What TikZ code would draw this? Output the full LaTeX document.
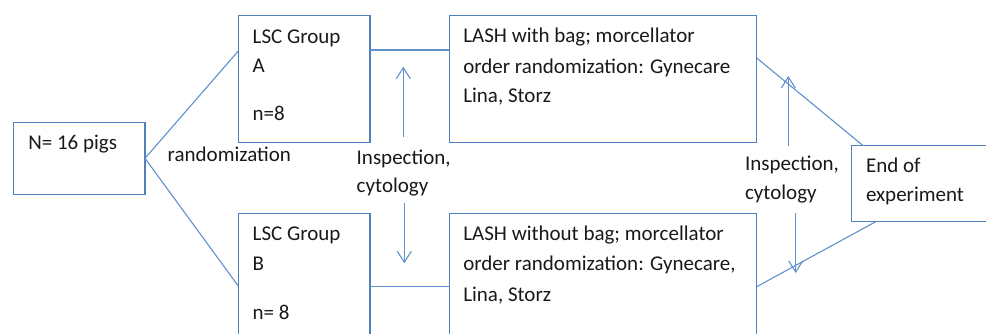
\documentclass[tikz,border=0pt]{standalone}
\usepackage{fontspec}
\setmainfont{Carlito}
\usetikzlibrary{arrows.meta}
\definecolor{boxblue}{RGB}{79,129,189}
\definecolor{lineblue}{RGB}{95,145,205}
\definecolor{txt}{RGB}{25,25,25}
\begin{document}
\begin{tikzpicture}[x=1pt,y=-1pt,
  box/.style={draw=boxblue,line width=1.2pt,rectangle,inner sep=0pt,outer sep=0pt,anchor=north west},
  conn/.style={draw=lineblue,line width=1.1pt},
  arr/.style={draw=lineblue,line width=1.1pt,-{Straight Barb[length=11pt,width=14pt,line width=1.1pt]}},
  lbl/.style={anchor=base west,inner sep=0pt,outer sep=0pt,text=txt,font=\fontsize{21}{30}\selectfont}]
\useasboundingbox (0,0) rectangle (986,333);
\clip (0,0) rectangle (986,333);
% boxes
\node[box,minimum width=131.7pt,minimum height=72pt] (N) at (13.3,122.3) {};
\node[box,minimum width=131.7pt,minimum height=127pt] (lscA) at (238.3,15.3) {};
\node[box,minimum width=131.7pt,minimum height=127pt] (lscB) at (238.3,213.3) {};
\node[box,minimum width=307.4pt,minimum height=127pt] (lashA) at (449.3,15.3) {};
\node[box,minimum width=307.4pt,minimum height=127pt] (lashB) at (449.3,213.3) {};
\node[box,minimum width=150pt,minimum height=76.4pt] (endb) at (851.7,145.3) {};
% texts
\node[lbl] (tN) at (28.3,149.7) {N= 16 pigs};
\node[lbl] (tA1) at (252.7,43.3) {LSC Group};
\node[lbl] (tA2) at (252.7,72.5) {A};
\node[lbl] (tA3) at (252.7,120.7) {n=8};
\node[lbl] (tB1) at (252.7,240.7) {LSC Group};
\node[lbl] (tB2) at (252.7,270.7) {B};
\node[lbl] (tB3) at (252.7,319) {n= 8};
\node[lbl] (tLA1) at (463.3,42.7) {LASH with bag; morcellator};
\node[lbl] (tLA2) at (463.3,73.3) {order randomization: Gynecare};
\node[lbl] (tLA3) at (463.3,102.7) {Lina, Storz};
\node[lbl] (tLB1) at (463.3,240.7) {LASH without bag; morcellator};
\node[lbl] (tLB2) at (463.3,270.7) {order randomization: Gynecare,};
\node[lbl] (tLB3) at (463.3,301.5) {Lina, Storz};
\node[lbl] (tE1) at (866,172) {End of};
\node[lbl] (tE2) at (866,201) {experiment};
\node[lbl] (trand) at (167.7,161) {randomization};
\node[lbl] (tI1) at (356.7,164) {Inspection,};
\node[lbl] (tI2) at (356.7,192.5) {cytology};
\node[lbl] (tJ1) at (745,170) {Inspection,};
\node[lbl] (tJ2) at (745,199.3) {cytology};
% connectors
\draw[conn] (N.east) -- ([yshift=-35.7pt]lscA.north west);
\draw[conn] (N.east) -- ([yshift=-72.7pt]lscB.north west);
\draw[conn] ([yshift=-34.7pt]lscA.north east) -- ([yshift=-34.7pt]lashA.north west);
\draw[conn] ([yshift=-73.4pt]lscB.north east) -- ([yshift=-73.4pt]lashB.north west);
\draw[conn] ([yshift=-42.7pt]lashA.north east) -- ([xshift=11pt]endb.north west);
\draw[conn] ([yshift=-73.4pt]lashB.north east) -- ([xshift=24pt]endb.south west);
% arrows
\coordinate (u1s) at (403.3,137.3);
\coordinate (u1e) at (403.3,66.7);
\coordinate (d1s) at (404.3,203.3);
\coordinate (d1e) at (404.3,263.3);
\coordinate (u2s) at (788.3,146);
\coordinate (u2e) at (788.3,76);
\coordinate (d2s) at (795.7,213);
\coordinate (d2e) at (795.7,273);
\draw[arr] (u1s) -- (u1e);
\draw[arr] (d1s) -- (d1e);
\draw[arr] (u2s) -- (u2e);
\draw[arr] (d2s) -- (d2e);
\end{tikzpicture}
\end{document}
